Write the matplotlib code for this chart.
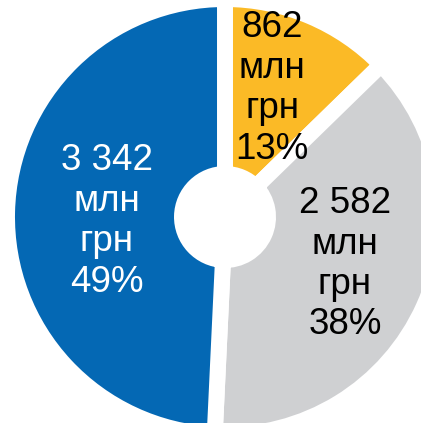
import matplotlib
matplotlib.use("Agg")
import matplotlib.pyplot as plt

# Data
categories = ["A", "B", "C"]
values = [862, 2582, 3342]
value_labels = ["862", "2 582", "3 342"]
percent_labels = ["13%", "38%", "49%"]
unit_line1 = "млн"
unit_line2 = "грн"
colors = ["#FBBA26", "#CFD0D2", "#0468B4"]
text_colors = ["black", "black", "white"]

W, H = 421, 423
fig = plt.figure(figsize=(W / 100, H / 100), dpi=100)
ax = fig.add_axes([0, 0, 1, 1])

cx, cy = 225, H - 217
R = 218
ax.pie(values, colors=colors, startangle=90, counterclock=False,
       center=(cx, cy), radius=R,
       wedgeprops=dict(width=R - 43, edgecolor="white", linewidth=11.5))
ax.set_xlim(0, W)
ax.set_ylim(0, H)
ax.set_aspect("equal")
ax.axis("off")

# label anchors: (x center, baseline of first line in px from top)
anchors = [(272, 37), (345, 213), (107, 170)]
step = 40.5
fs = 26.5
for i, (x, y0) in enumerate(anchors):
    lines = [value_labels[i], unit_line1, unit_line2, percent_labels[i]]
    for k, t in enumerate(lines):
        ax.text(x, H - (y0 + k * step), t, ha="center", va="baseline",
                fontsize=fs, color=text_colors[i], family="Liberation Sans")

fig.savefig("out.png", dpi=100)
